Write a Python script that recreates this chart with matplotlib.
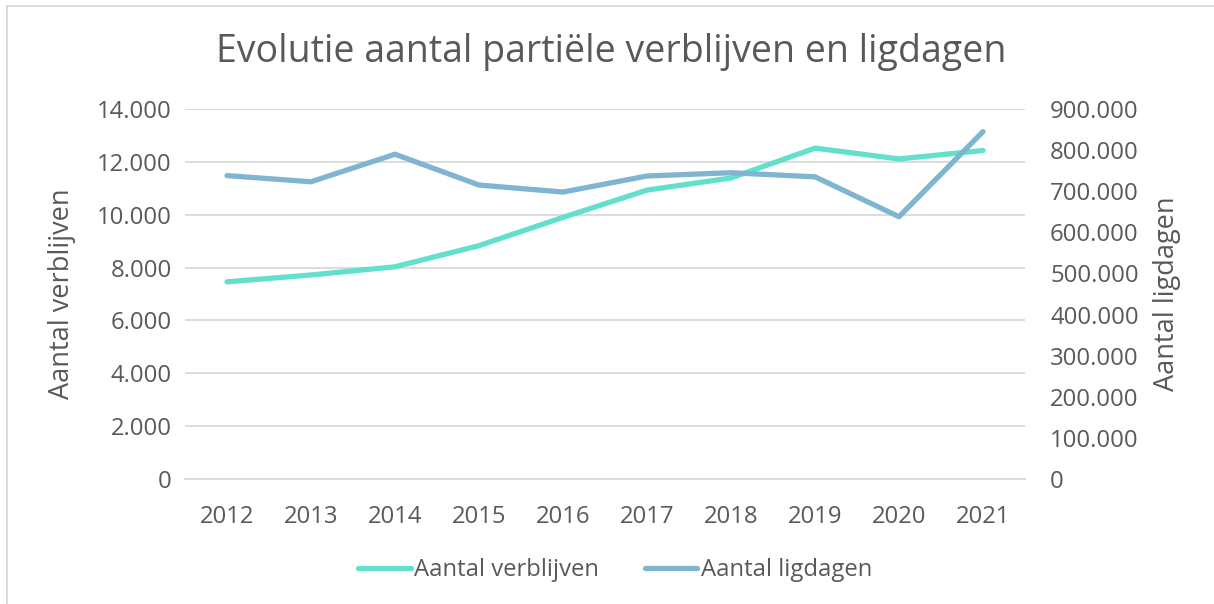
import numpy as np
from matplotlib import pyplot as plt
from matplotlib.lines import Line2D
from matplotlib.ticker import FuncFormatter

plt.rcParams['font.family'] = ['Open Sans', 'DejaVu Sans']

# Data
years = ['2012', '2013', '2014', '2015', '2016', '2017', '2018', '2019', '2020', '2021']
verblijven = [7460, 7720, 8030, 8830, 9900, 10930, 11390, 12520, 12110, 12430]
ligdagen = [738000, 723000, 790000, 715000, 698000, 737000, 745000, 735000, 638000, 845000]

text_col = '#595959'
teal = '#62e0cc'
blue = '#7fb5d0'

W, H = 1214, 604
fig = plt.figure(figsize=(W / 100, H / 100), dpi=100)

# plot area in pixels: x 185-1025, y 109-479
ax = fig.add_axes([185 / W, 1 - 479 / H, 840 / W, 370 / H])
ax2 = ax.twinx()

x = np.arange(len(years))
ax.plot(x, verblijven, color=teal, lw=3.8, solid_capstyle='round', zorder=3)
ax2.plot(x, ligdagen, color=blue, lw=3.8, solid_capstyle='round', zorder=3)

ax.set_xlim(-0.5, len(years) - 0.5)
ax.set_ylim(0, 14000)
ax.set_yticks(range(0, 14001, 2000))
ax2.set_ylim(0, 900000)
ax2.set_yticks(range(0, 900001, 100000))

dots = FuncFormatter(lambda v, p: f'{int(v):,}'.replace(',', '.'))
ax.yaxis.set_major_formatter(dots)
ax2.yaxis.set_major_formatter(dots)

ax.set_xticks(x)
ax.set_xticklabels(years)
ax.grid(axis='y', color='#d9d9d9', lw=1.3)
ax.set_axisbelow(True)

for a in (ax, ax2):
    for s in a.spines.values():
        s.set_visible(False)
    a.tick_params(length=0, labelsize=17.2, colors=text_col)
ax.tick_params(axis='y', pad=9.5)
ax.tick_params(axis='x', pad=19)
ax2.tick_params(axis='y', pad=18)
ax.spines['bottom'].set_visible(True)
ax.spines['bottom'].set_color('#d9d9d9')
ax.spines['bottom'].set_linewidth(1.3)

ax.set_ylabel('Aantal verblijven', fontsize=19.5, color=text_col, labelpad=15)
ax2.set_ylabel('Aantal ligdagen', fontsize=19.5, color=text_col, labelpad=10)

fig.text(611 / W, 1 - 52 / H, 'Evolutie aantal partiële verblijven en ligdagen',
         ha='center', va='center', fontsize=27, color=text_col)

handles = [Line2D([], [], color=teal, lw=3.8, solid_capstyle='round'),
           Line2D([], [], color=blue, lw=3.8, solid_capstyle='round')]
fig.legend(handles, ['Aantal verblijven', 'Aantal ligdagen'], loc='center',
           bbox_to_anchor=(615 / W, 1 - 570 / H), ncol=2, frameon=False,
           fontsize=17.2, labelcolor=text_col, handlelength=2.2, handletextpad=0.15,
           columnspacing=1.9)

# chart border (left and top visible)
fig.add_artist(Line2D([7 / W, 7 / W], [0, 1 - 6 / H], color='#d9d9d9', lw=1.3))
fig.add_artist(Line2D([7 / W, 1], [1 - 6 / H, 1 - 6 / H], color='#d9d9d9', lw=1.3))

fig.savefig('out.png', dpi=100, facecolor='white')
